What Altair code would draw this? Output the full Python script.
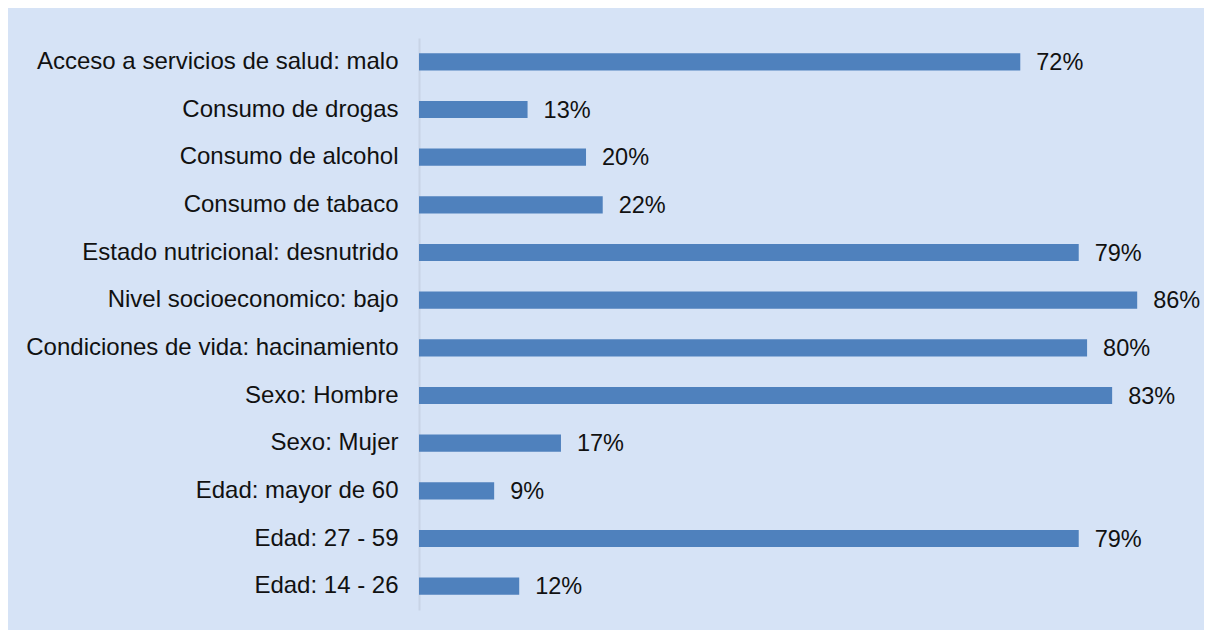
import altair as alt
import pandas as pd

categories = [
    "Acceso a servicios de salud: malo",
    "Consumo de drogas\u00a0",
    "Consumo de alcohol",
    "Consumo de tabaco\u00a0",
    "Estado nutricional: desnutrido\u00a0",
    "Nivel socioeconomico: bajo\u00a0",
    "Condiciones de vida: hacinamiento",
    "Sexo: Hombre\u00a0",
    "Sexo: Mujer",
    "Edad: mayor de 60",
    "Edad: 27 - 59",
    "Edad: 14 - 26",
]
values = [72, 13, 20, 22, 79, 86, 80, 83, 17, 9, 79, 12]
labels = [f"{v}%" for v in values]

df = pd.DataFrame({"cat": categories, "val": values, "lab": labels})

y = alt.Y("cat:N", sort=None, title=None,
          scale=alt.Scale(paddingInner=0.64, paddingOuter=0.32),
          axis=alt.Axis(labelFontSize=24, labelFont="Liberation Sans", labelColor="#111111",
                        labelPadding=21, ticks=False, domainColor="#c8d4e6", domainWidth=2,
                        labelLimit=500))
x = alt.X("val:Q", title=None, scale=alt.Scale(domain=[0, 94], nice=False),
          axis=None)

bars = alt.Chart(df).mark_bar(color="#4f81bd", cornerRadius=0).encode(x=x, y=y)
text = alt.Chart(df).mark_text(align="left", baseline="middle", dx=16, dy=1, fontSize=23.5,
                               font="Liberation Sans", color="#111111").encode(
    x=x, y=y, text="lab:N")

chart = (bars + text).properties(
    width=785, height=572,
    autosize=alt.AutoSizeParams(type="none"),
    padding={"left": 411, "top": 30, "right": 0, "bottom": 20},
    background="#d6e3f6",
).configure_view(stroke=None, fill="#d6e3f6")

chart.save("out.html", embed_options={"renderer": "svg", "actions": False})
